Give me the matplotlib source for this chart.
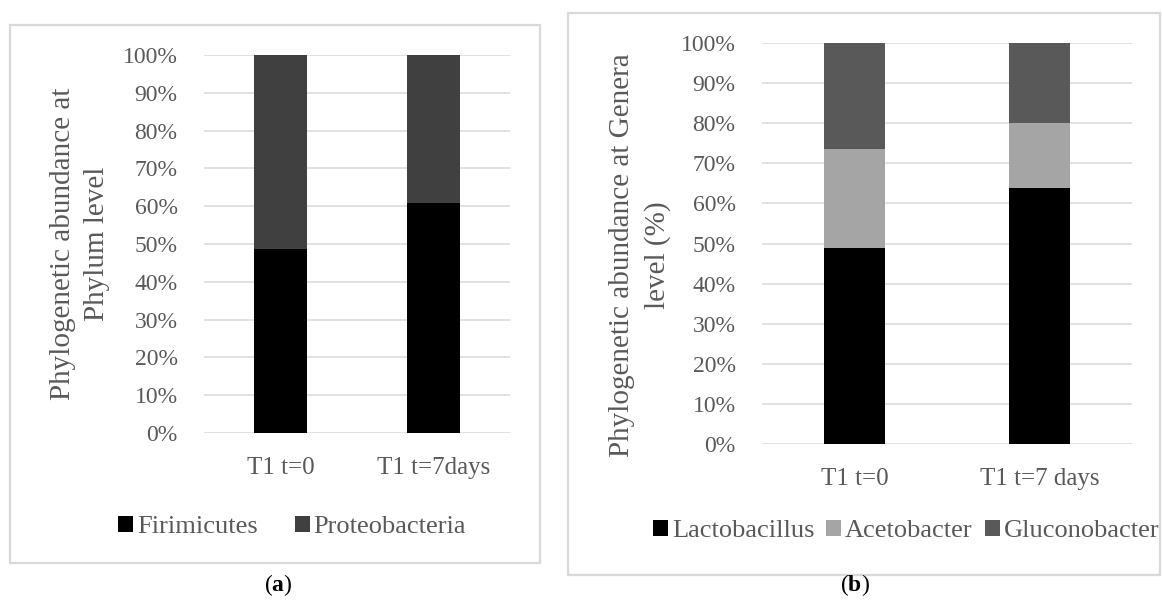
import matplotlib
matplotlib.use("Agg")
import matplotlib.pyplot as plt
from matplotlib.patches import Rectangle
from matplotlib.ticker import FuncFormatter

# Data (percent)
phylum_groups = ["T1 t=0", "T1 t=7days"]
firmicutes = [48.7, 60.8]
proteobacteria = [51.3, 39.2]

genera_groups = ["T1 t=0", "T1 t=7 days"]
lactobacillus = [49.0, 63.8]
acetobacter = [24.5, 16.3]
gluconobacter = [26.5, 19.9]

plt.rcParams['font.family'] = ['Liberation Serif', 'DejaVu Serif']
plt.rcParams['mathtext.fontset'] = 'custom'
plt.rcParams['mathtext.rm'] = 'Liberation Serif'
plt.rcParams['mathtext.bf'] = 'Liberation Serif:bold'
txt = '#595959'
grid_c = '#d9d9d9'
fs_y = 17        # y tick labels
fs_x = 18        # x tick labels
fs_lab = 21      # axis titles
fs_leg = 19      # legends

fig = plt.figure(figsize=(11.62, 6.10), dpi=100)

# panel frames (pixel boxes -> figure fraction)
W, H = 1162, 610
def frame(x0, y0, x1, y1):
    fig.patches.append(Rectangle((x0 / W, 1 - y1 / H), (x1 - x0) / W, (y1 - y0) / H,
                                 transform=fig.transFigure, fill=False,
                                 edgecolor=grid_c, lw=1.6))
frame(10, 25, 540, 563)
frame(568, 13, 1160, 575)

def style(ax, labels):
    ax.set_xlim(-0.5, 1.5)
    ax.set_ylim(0, 100)
    ax.set_yticks(range(0, 101, 10))
    ax.yaxis.set_major_formatter(FuncFormatter(lambda v, p: f"{v:.0f}%"))
    ax.set_xticks([0, 1])
    ax.set_xticklabels(labels)
    ax.tick_params(axis='both', length=0, colors=txt)
    ax.tick_params(axis='y', pad=19, labelsize=fs_y)
    ax.tick_params(axis='x', pad=17, labelsize=fs_x)
    for s in ax.spines.values():
        s.set_visible(False)
    ax.grid(axis='y', color=grid_c, lw=1.1)
    ax.set_axisbelow(True)

# (a)
ax1 = fig.add_axes([204 / W, 1 - 433 / H, 306 / W, 378 / H])
x = range(len(phylum_groups))
bw = 0.35
ax1.bar(x, firmicutes, bw, color='#000000', label='Firimicutes')
ax1.bar(x, proteobacteria, bw, bottom=firmicutes, color='#404040', label='Proteobacteria')
style(ax1, phylum_groups)
fig.text(80 / W, 1 - 244 / H, "Phylogenetic abundance at\nPhylum level", rotation=90,
         ha='center', va='center', multialignment='center', fontsize=fs_lab, color=txt,
         linespacing=1.38)
fig.legend(*ax1.get_legend_handles_labels(), loc='center', bbox_to_anchor=(292 / W, 1 - 527 / H),
           ncol=2, frameon=False, fontsize=fs_leg, labelcolor=txt, handlelength=0.57,
           handleheight=0.57, handletextpad=0.15, columnspacing=1.4, borderpad=0)

# (b)
ax2 = fig.add_axes([762 / W, 1 - 444 / H, 370 / W, 401 / H])
x = range(len(genera_groups))
bw = 0.335
bot2 = [a + b for a, b in zip(lactobacillus, acetobacter)]
ax2.bar(x, lactobacillus, bw, color='#000000', label='Lactobacillus')
ax2.bar(x, acetobacter, bw, bottom=lactobacillus, color='#a5a5a5', label='Acetobacter')
ax2.bar(x, gluconobacter, bw, bottom=bot2, color='#595959', label='Gluconobacter')
style(ax2, genera_groups)
fig.text(640 / W, 1 - 255 / H, "Phylogenetic abundance at Genera\nlevel (%)", rotation=90,
         ha='center', va='center', multialignment='center', fontsize=fs_lab, color=txt,
         linespacing=1.45)
fig.legend(*ax2.get_legend_handles_labels(), loc='center', bbox_to_anchor=(906 / W, 1 - 531 / H),
           ncol=3, frameon=False, fontsize=fs_leg, labelcolor=txt, handlelength=0.57,
           handleheight=0.57, handletextpad=0.15, columnspacing=0.45, borderpad=0)

# captions
fig.text(278 / W, 1 - 585 / H, r"($\mathbf{a}$)", ha='center', va='center', fontsize=17)
fig.text(855 / W, 1 - 585 / H, r"($\mathbf{b}$)", ha='center', va='center', fontsize=17)

fig.savefig("out.png", dpi=100)
